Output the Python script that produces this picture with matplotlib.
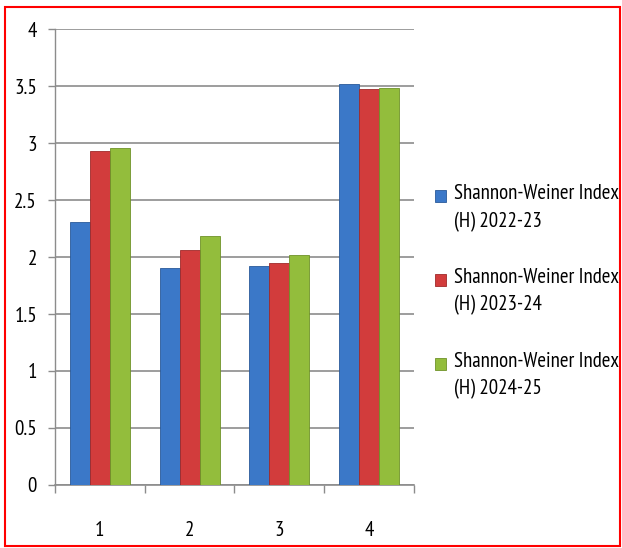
import matplotlib
matplotlib.use("Agg")
import matplotlib.pyplot as plt
import numpy as np
from matplotlib.patches import Rectangle
from matplotlib.legend_handler import HandlerPatch

categories = ["1", "2", "3", "4"]
series_names = ["Shannon-Weiner Index\n(H) 2022-23",
                "Shannon-Weiner Index\n(H) 2023-24",
                "Shannon-Weiner Index\n(H) 2024-25"]
h_2022_23 = [2.31, 1.90, 1.92, 3.52]
h_2023_24 = [2.93, 2.06, 1.95, 3.47]
h_2024_25 = [2.96, 2.18, 2.02, 3.48]
yticks = [0, 0.5, 1, 1.5, 2, 2.5, 3, 3.5, 4]
ytick_labels = ["0", "0.5", "1", "1.5", "2", "2.5", "3", "3.5", "4"]

colors = ["#3b78c8", "#d23c3c", "#93bd3c"]
edges = ["#2a5a9a", "#a02a2a", "#6f9228"]

font = ["PT Sans Narrow", "DejaVu Sans"]


class TopAlignedPatch(HandlerPatch):
    """Draw the legend square level with the first line of a two-line label."""
    def create_artists(self, legend, orig_handle, xdescent, ydescent, width,
                       height, fontsize, trans):
        p = Rectangle((-xdescent, -ydescent + 8.5), width, height,
                      facecolor=orig_handle.get_facecolor(),
                      edgecolor=orig_handle.get_edgecolor(),
                      linewidth=0.6, transform=trans)
        return [p]


fig = plt.figure(figsize=(6.22, 5.48), dpi=100)
ax = fig.add_axes([0.0884, 0.115, 0.5772, 0.832])

x = np.arange(len(categories))
w = 0.223
bars = []
for i, vals in enumerate([h_2022_23, h_2023_24, h_2024_25]):
    b = ax.bar(x + (i - 1) * w, vals, width=w, color=colors[i], edgecolor=edges[i],
               linewidth=0.6, label=series_names[i], zorder=3)
    bars.append(b)

ax.set_xlim(-0.5, 3.5)
ax.set_ylim(0, 4)
ax.set_yticks(yticks)
ax.set_yticklabels(ytick_labels, fontfamily=font, fontsize=15)
ax.set_xticks(x)
ax.set_xticklabels(categories, fontfamily=font, fontsize=15)
ax.tick_params(axis="x", length=0, pad=26)
ax.set_xticks(np.arange(-0.5, 4.0, 1.0), minor=True)
ax.tick_params(axis="x", which="minor", length=6, color="#8c8c8c", width=1)
ax.tick_params(axis="y", length=5, color="#8c8c8c", width=1, pad=8)
ax.grid(axis="y", color="#8c8c8c", linewidth=1.2, zorder=0)
for s in ["top", "right"]:
    ax.spines[s].set_visible(False)
ax.spines["left"].set_color("#8c8c8c")
ax.spines["bottom"].set_color("#8c8c8c")
ax.spines["left"].set_linewidth(1)
ax.spines["bottom"].set_linewidth(1.2)

handles = [b.patches[0] for b in bars]
leg = fig.legend(handles, series_names, loc="upper left",
                 bbox_to_anchor=(0.699, 0.664), frameon=False,
                 prop={"family": font, "size": 15}, handlelength=0.55,
                 handleheight=0.55, handletextpad=0.35, labelspacing=1.75,
                 borderaxespad=0, borderpad=0,
                 handler_map={Rectangle: TopAlignedPatch()})
for t in leg.get_texts():
    t.set_linespacing(1.55)

fig.patches.append(Rectangle((0.008, 0.003), 0.988, 0.984, transform=fig.transFigure,
                             fill=False, edgecolor="#ff0000", linewidth=1.5))

fig.savefig("out.png", dpi=100)
